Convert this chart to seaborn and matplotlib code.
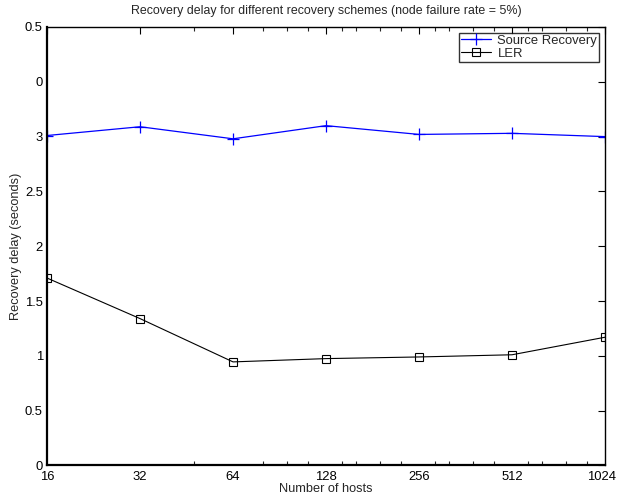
import matplotlib
matplotlib.use("Agg")
import matplotlib.pyplot as plt
from matplotlib.ticker import FixedLocator, NullFormatter
from matplotlib.transforms import ScaledTranslation
import seaborn as sns
import pandas as pd

# Number of hosts (x axis, log scale)
hosts = [16, 32, 64, 128, 256, 512, 1024]
host_labels = ["16", "32", "64", "128", "256", "512", "1024"]

# Recovery delay in seconds for each scheme
source_recovery = [3.01, 3.09, 2.98, 3.10, 3.02, 3.03, 3.00]
ler = [1.71, 1.34, 0.945, 0.975, 0.99, 1.01, 1.17]

# Y tick positions and their labels as printed on the axis
y_ticks = [0, 0.5, 1, 1.5, 2, 2.5, 3, 3.5, 4]
y_labels = ["0", "0.5", "1", "1.5", "2", "2.5", "3", "0", "0.5"]

# Minor tick positions on the host axis
minor_hosts = [48, 80, 96, 112, 144, 160, 192, 224, 288, 320, 384, 448,
               576, 640, 768, 896]

sns.set_style("white")
plt.rcParams["font.family"] = ["Liberation Sans", "DejaVu Sans"]

fig = plt.figure(figsize=(6.17, 4.97), dpi=100)
ax = fig.add_axes([0.0762, 0.0634, 0.9044, 0.8823])

df_src = pd.DataFrame({"hosts": hosts, "delay": source_recovery})
df_ler = pd.DataFrame({"hosts": hosts, "delay": ler})

sns.lineplot(data=df_src, x="hosts", y="delay", ax=ax, color="#0000ff",
             marker="+", markersize=8, markeredgewidth=0.9,
             markeredgecolor="#0000ff", linewidth=0.9,
             label="Source Recovery")
sns.lineplot(data=df_ler, x="hosts", y="delay", ax=ax, color="black",
             marker="s", markersize=5.5, markerfacecolor="none",
             markeredgecolor="black", markeredgewidth=0.8, linewidth=0.8,
             label="LER")

ax.set_xscale("log", base=2)
ax.set_xlim(16, 1024)
ax.set_ylim(0, 4)
ax.set_xticks(hosts)
ax.set_xticklabels(host_labels)
ax.xaxis.set_minor_locator(FixedLocator(minor_hosts))
ax.xaxis.set_minor_formatter(NullFormatter())
ax.set_yticks(y_ticks)
ax.set_yticklabels(y_labels)

ax.tick_params(axis="both", which="major", direction="in", length=5,
               width=0.8, labelsize=9.4, top=True, right=True,
               colors="black")
ax.tick_params(axis="y", which="major", pad=3)
ax.tick_params(axis="x", which="major", pad=4)
ax.tick_params(axis="x", which="minor", direction="in", length=3,
               width=0.8, top=True, bottom=True)

# nudge the last host label so it stays inside the figure
last = ax.get_xticklabels()[-1]
last.set_transform(last.get_transform() +
                   ScaledTranslation(-4 / 100, 0, fig.dpi_scale_trans))

for side in ["left", "bottom"]:
    ax.spines[side].set_linewidth(1.6)
for side in ["top", "right"]:
    ax.spines[side].set_linewidth(1.0)
for s in ax.spines.values():
    s.set_color("black")
    s.set_visible(True)

ax.set_xlabel("Number of hosts", fontsize=9.2, labelpad=0)
ax.set_ylabel("Recovery delay (seconds)", fontsize=9.2, labelpad=2)
ax.set_title("Recovery delay for different recovery schemes (node failure rate = 5%)",
             fontsize=8.9, pad=9)

leg = ax.legend(loc="upper right", fontsize=9.4, frameon=True, fancybox=False,
                edgecolor="black", borderpad=0.15, labelspacing=0.05,
                handlelength=2.3, handletextpad=0.5, borderaxespad=0.45)
leg.get_frame().set_linewidth(1.0)

fig.savefig("out.png", dpi=100)
